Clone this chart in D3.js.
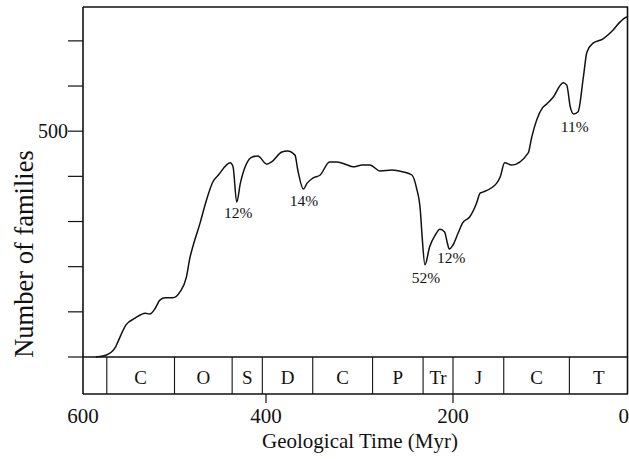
<!DOCTYPE html>
<html>
<head>
<meta charset="utf-8">
<script src="https://cdn.jsdelivr.net/npm/d3@7"></script>
<style>
  html, body { margin: 0; padding: 0; background: #fff; }
  svg { display: block; }
  text { font-family: "Liberation Serif", "DejaVu Serif", serif; fill: #111; }
</style>
</head>
<body>
<svg id="chart" width="629" height="459"></svg>
<script>
// ---- Data ----
const timeMyr = [586, 575, 565, 562, 553, 543, 532, 527, 521, 516, 510, 502, 494, 487, 483, 480, 472, 466, 458, 452, 439, 436, 432, 428, 415, 409, 399, 394, 383, 377, 369, 366, 360, 356, 350, 342, 332, 324, 313, 307, 297, 289, 278, 265, 254, 244, 239, 235, 233, 230, 225, 219, 214, 209, 206, 204, 200, 194, 189, 181, 173, 169, 166, 150, 146, 141, 133, 114, 110, 98, 93, 86, 74, 70, 66, 62, 57, 51, 47, 40, 29, 17, 9, 1, 0];
const families = [0, 4, 20, 33, 71, 86, 97, 95, 108, 126, 131, 131, 144, 177, 221, 244, 297, 341, 388, 403, 430, 421, 343, 385, 443, 445, 427, 432, 454, 456, 447, 414, 372, 385, 396, 403, 432, 432, 425, 421, 425, 425, 412, 414, 410, 403, 374, 326, 266, 204, 244, 270, 283, 277, 252, 239, 248, 275, 297, 310, 341, 363, 365, 385, 399, 430, 425, 452, 487, 551, 560, 574, 607, 602, 554, 538, 543, 620, 675, 695, 704, 724, 742, 753, 753];

const periodStarts = [574, 500, 437, 404, 350, 286, 232, 200, 142, 67];
const periodEnds   = [500, 437, 404, 350, 286, 232, 200, 142, 67, 0];
const periodLabels = ["C", "O", "S", "D", "C", "P", "Tr", "J", "C", "T"];

const extinctionTimes  = [432, 360, 230, 204, 62];
const extinctionLabels = ["12%", "14%", "52%", "12%", "11%"];
const extinctionY      = [343, 372, 204, 239, 538];

const xTickValues = [600, 400, 200, 0];
const xTickLabels = ["600", "400", "200", "0"];
const yTickValues = [0, 100, 200, 300, 400, 500, 600, 700];
const yTickLabels = ["", "", "", "", "", "500", "", ""];

// ---- Layout ----
const svg = d3.select("#chart");
const x = d3.scaleLinear().domain([600, 400, 200, 0]).range([83, 266, 453, 628]);
const y = d3.scaleLinear().domain([0, 775]).range([357, 7]);
const barTop = y(0), barBottom = 394;
const ink = "#111";

// Frame: top, left, right
svg.append("line").attr("x1", x(600)).attr("x2", x(0)).attr("y1", y(775)).attr("y2", y(775))
  .attr("stroke", ink).attr("stroke-width", 1.6);
svg.append("line").attr("x1", x(600)).attr("x2", x(600)).attr("y1", y(775)).attr("y2", barBottom)
  .attr("stroke", ink).attr("stroke-width", 1.6);
svg.append("line").attr("x1", x(0) - 0.5).attr("x2", x(0) - 0.5).attr("y1", y(775)).attr("y2", barBottom)
  .attr("stroke", ink).attr("stroke-width", 1.6);

// Period bar
svg.append("line").attr("x1", x(600)).attr("x2", x(0)).attr("y1", barTop).attr("y2", barTop)
  .attr("stroke", ink).attr("stroke-width", 1.4);
svg.append("line").attr("x1", x(600)).attr("x2", x(0)).attr("y1", barBottom).attr("y2", barBottom)
  .attr("stroke", ink).attr("stroke-width", 1.4);
svg.selectAll("line.pb").data(periodStarts).enter().append("line")
  .attr("class", "pb")
  .attr("x1", d => x(d)).attr("x2", d => x(d))
  .attr("y1", barTop).attr("y2", barBottom)
  .attr("stroke", ink).attr("stroke-width", 1.1);
svg.selectAll("text.pl").data(periodLabels).enter().append("text")
  .attr("class", "pl")
  .attr("x", (d, i) => (x(periodStarts[i]) + x(periodEnds[i])) / 2)
  .attr("y", 384)
  .attr("text-anchor", "middle")
  .attr("font-size", 19)
  .text(d => d);

// X axis ticks & labels (below the bar)
svg.selectAll("line.xt").data(xTickValues.filter(v => v !== 600 && v !== 0)).enter().append("line")
  .attr("class", "xt")
  .attr("x1", d => x(d)).attr("x2", d => x(d))
  .attr("y1", barBottom).attr("y2", barBottom + 9)
  .attr("stroke", ink).attr("stroke-width", 1.2);
svg.selectAll("text.xl").data(xTickValues).enter().append("text")
  .attr("class", "xl")
  .attr("x", d => d === 0 ? x(d) + 1 : x(d))
  .attr("y", 423)
  .attr("text-anchor", d => d === 0 ? "end" : "middle")
  .attr("font-size", 21)
  .text((d, i) => xTickLabels[i]);

// Y axis ticks
svg.selectAll("line.yt").data(yTickValues).enter().append("line")
  .attr("class", "yt")
  .attr("x1", x(600) - 15).attr("x2", x(600))
  .attr("y1", d => y(d)).attr("y2", d => y(d))
  .attr("stroke", ink).attr("stroke-width", 1.2);
svg.selectAll("text.yl").data(yTickValues).enter().append("text")
  .attr("class", "yl")
  .attr("x", x(600) - 15)
  .attr("y", d => y(d) + 7)
  .attr("text-anchor", "end")
  .attr("font-size", 20)
  .text((d, i) => yTickLabels[i]);

// Axis titles
svg.append("text")
  .attr("transform", "translate(33,254) rotate(-90)")
  .attr("text-anchor", "middle")
  .attr("font-size", 26.5)
  .text("Number of families");
svg.append("text")
  .attr("x", 360).attr("y", 448)
  .attr("text-anchor", "middle")
  .attr("font-size", 21)
  .text("Geological Time (Myr)");

// Diversity curve
const pts = timeMyr.map((t, i) => [t, families[i]]);
const line = d3.line().x(d => x(d[0])).y(d => y(d[1])).curve(d3.curveMonotoneX);
svg.append("path").datum(pts.slice().reverse())
  .attr("d", line)
  .attr("fill", "none")
  .attr("stroke", ink)
  .attr("stroke-width", 1.5)
  .attr("stroke-linejoin", "round");

// Extinction labels (placed just below each dip)
const labelDx = [1.5, 0.5, 1, 2, 1];
const labelDy = [16, 17, 18, 14, 18];
svg.selectAll("text.ex").data(extinctionLabels).enter().append("text")
  .attr("class", "ex")
  .attr("x", (d, i) => x(extinctionTimes[i]) + labelDx[i])
  .attr("y", (d, i) => y(extinctionY[i]) + labelDy[i])
  .attr("text-anchor", "middle")
  .attr("font-size", 15.5)
  .text(d => d);
</script>
</body>
</html>
